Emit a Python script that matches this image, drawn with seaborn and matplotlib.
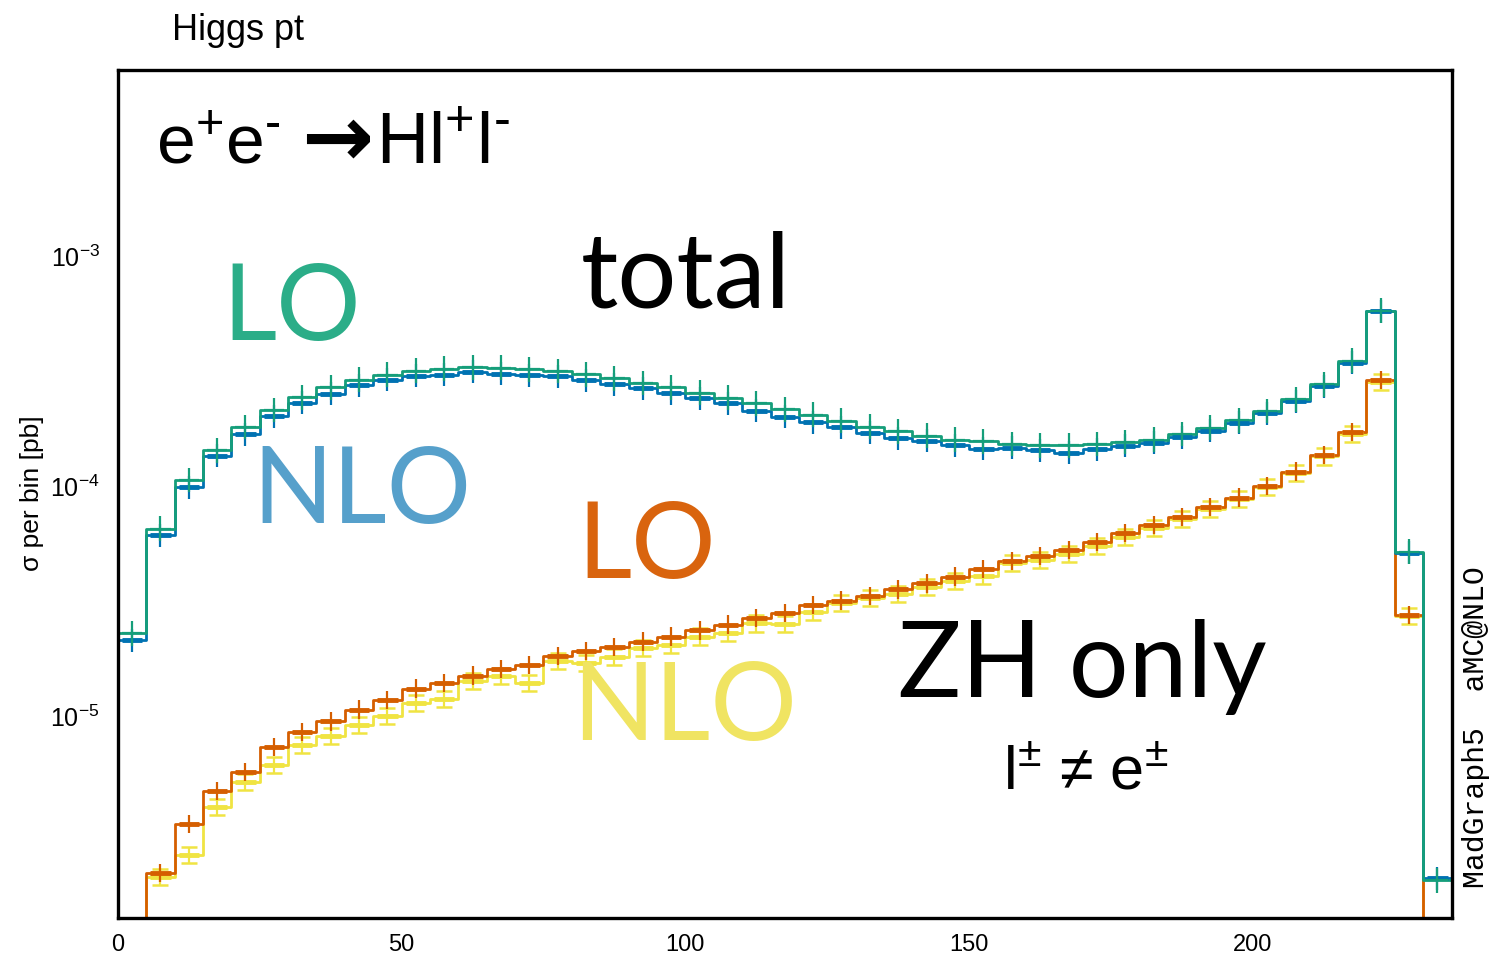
import numpy as np
import pandas as pd
import matplotlib
matplotlib.use("Agg")
import matplotlib.pyplot as plt
import seaborn as sns
from matplotlib.ticker import FixedLocator, LogLocator, NullLocator, LogFormatterSciNotation

# Higgs transverse momentum, 5 GeV bins from 0 to 235
pt_edges = np.arange(0.0, 240.0, 5.0)

# e+e- -> H l+ l-, total (LO / NLO), cross section per bin in pb
lo_total = [2.29e-5, 6.55e-5, 1.066e-4, 1.435e-4, 1.815e-4, 2.15e-4, 2.44e-4, 2.70e-4,
            2.92e-4, 3.06e-4, 3.19e-4, 3.25e-4, 3.30e-4, 3.29e-4, 3.24e-4, 3.18e-4,
            3.08e-4, 2.95e-4, 2.82e-4, 2.70e-4, 2.56e-4, 2.43e-4, 2.30e-4, 2.17e-4,
            2.05e-4, 1.93e-4, 1.82e-4, 1.74e-4, 1.66e-4, 1.60e-4, 1.57e-4, 1.53e-4,
            1.51e-4, 1.51e-4, 1.53e-4, 1.56e-4, 1.60e-4, 1.69e-4, 1.80e-4, 1.94e-4,
            2.13e-4, 2.39e-4, 2.78e-4, 3.52e-4, 5.81e-4, 5.20e-5, 1.93e-6]
nlo_total = [2.14e-5, 6.14e-5, 9.90e-5, 1.36e-4, 1.69e-4, 2.02e-4, 2.31e-4, 2.53e-4,
             2.76e-4, 2.92e-4, 3.03e-4, 3.06e-4, 3.16e-4, 3.10e-4, 3.05e-4, 3.01e-4,
             2.90e-4, 2.78e-4, 2.67e-4, 2.54e-4, 2.42e-4, 2.30e-4, 2.14e-4, 2.01e-4,
             1.90e-4, 1.81e-4, 1.71e-4, 1.62e-4, 1.58e-4, 1.51e-4, 1.46e-4, 1.47e-4,
             1.44e-4, 1.40e-4, 1.45e-4, 1.50e-4, 1.55e-4, 1.64e-4, 1.75e-4, 1.89e-4,
             2.08e-4, 2.35e-4, 2.73e-4, 3.46e-4, 5.78e-4, 5.15e-5, 1.97e-6]

# ZH contribution only (LO / NLO)
lo_zh = [4.0e-7, 2.07e-6, 3.39e-6, 4.73e-6, 5.69e-6, 7.34e-6, 8.50e-6, 9.48e-6,
         1.066e-5, 1.175e-5, 1.316e-5, 1.39e-5, 1.50e-5, 1.60e-5, 1.67e-5, 1.83e-5,
         1.92e-5, 2.00e-5, 2.11e-5, 2.22e-5, 2.36e-5, 2.50e-5, 2.67e-5, 2.81e-5,
         3.05e-5, 3.18e-5, 3.34e-5, 3.56e-5, 3.78e-5, 4.05e-5, 4.37e-5, 4.73e-5,
         4.98e-5, 5.29e-5, 5.74e-5, 6.25e-5, 6.78e-5, 7.38e-5, 8.13e-5, 8.93e-5,
         1.007e-4, 1.159e-4, 1.371e-4, 1.72e-4, 2.90e-4, 2.75e-5, 4.0e-7]
nlo_zh = [4.0e-7, 2.00e-6, 2.48e-6, 4.03e-6, 5.15e-6, 6.12e-6, 7.48e-6, 8.19e-6,
          9.14e-6, 1.005e-5, 1.14e-5, 1.19e-5, 1.42e-5, 1.50e-5, 1.39e-5, 1.74e-5,
          1.71e-5, 1.80e-5, 1.97e-5, 2.04e-5, 2.22e-5, 2.29e-5, 2.53e-5, 2.51e-5,
          2.84e-5, 3.10e-5, 3.28e-5, 3.40e-5, 3.65e-5, 3.88e-5, 4.08e-5, 4.64e-5,
          4.77e-5, 5.06e-5, 5.50e-5, 6.00e-5, 6.60e-5, 7.20e-5, 7.95e-5, 8.78e-5,
          9.90e-5, 1.14e-4, 1.35e-4, 1.69e-4, 2.86e-4, 2.72e-5, 4.0e-7]

# relative uncertainty of each sample, in decades
err_dec = {"nlo_zh": 0.035, "lo_zh": 0.040, "nlo_total": 0.050, "lo_total": 0.054}

x_ticks = [0, 50, 100, 150, 200]
x_range = (0.0, 235.0)
y_range = (1.316e-6, 6.5e-3)

series = {"nlo_zh": nlo_zh, "lo_zh": lo_zh, "nlo_total": nlo_total, "lo_total": lo_total}
line_colors = {"nlo_zh": "#F0E442", "lo_zh": "#D55E00",
               "nlo_total": "#0072B2", "lo_total": "#159E7A"}
text_colors = {"nlo_zh": "#F0E462", "lo_zh": "#D9640E",
               "nlo_total": "#56A0CB", "lo_total": "#2BAD88"}

sns.set_style("white")
plt.rcParams["font.family"] = ["Liberation Sans", "DejaVu Sans"]
plt.rcParams["mathtext.fontset"] = "custom"
plt.rcParams["mathtext.rm"] = "Liberation Sans"
plt.rcParams["mathtext.it"] = "Liberation Sans"
plt.rcParams["mathtext.bf"] = "Liberation Sans:bold"
plt.rcParams["text.color"] = "black"
plt.rcParams["axes.labelcolor"] = "black"
plt.rcParams["xtick.color"] = "black"
plt.rcParams["ytick.color"] = "black"

fig = plt.figure(figsize=(14.91, 9.58), dpi=100)
ax = fig.add_axes([0.0790, 0.0414, 0.8946, 0.8855])
ax.set_yscale("log")

# step outlines of the histograms
frames = []
for name, vals in series.items():
    vals = np.asarray(vals)
    frames.append(pd.DataFrame({
        "pt": np.append(pt_edges[:-1], pt_edges[-1]),
        "sigma": np.append(vals, vals[-1]),
        "sample": name,
    }))
df = pd.concat(frames, ignore_index=True)
sns.lineplot(data=df, x="pt", y="sigma", hue="sample", hue_order=list(series.keys()),
             palette=line_colors, drawstyle="steps-post", estimator=None, sort=False,
             legend=False, linewidth=2.0, ax=ax)

# error crosses at bin centres
centres = 0.5 * (pt_edges[:-1] + pt_edges[1:])
for name, vals in series.items():
    vals = np.asarray(vals)
    ok = vals > y_range[0]
    c, v = centres[ok], vals[ok]
    f = 10 ** err_dec[name]
    col = line_colors[name]
    if name == "nlo_zh":
        ax.errorbar(c, v, yerr=[v - v / f, v * f - v], fmt="none", ecolor=col,
                    elinewidth=1.6, capsize=6, capthick=1.8, zorder=2)
    else:
        ax.errorbar(c, v, yerr=[v - v / f, v * f - v], fmt="none", ecolor=col,
                    elinewidth=1.6, zorder=3)
    thick = 1.6 if name == "lo_total" else 3.5
    ax.errorbar(c, v, xerr=1.8, fmt="none", ecolor=col, elinewidth=thick, zorder=3)

ax.set_xlim(*x_range)
ax.set_ylim(*y_range)
ax.set_xlabel("")
ax.set_ylabel("")

ax.xaxis.set_major_locator(FixedLocator(x_ticks))
ax.xaxis.set_minor_locator(NullLocator())
ax.yaxis.set_major_locator(LogLocator(base=10))
ax.yaxis.set_minor_locator(LogLocator(base=10, subs=np.arange(2, 10)))
ax.yaxis.set_major_formatter(LogFormatterSciNotation())
ax.tick_params(axis="x", which="major", direction="in", length=9.5, width=1.4,
               labelsize=17, pad=11, top=False, colors="black")
ax.tick_params(axis="y", which="major", direction="in", length=14, width=1.4,
               labelsize=18, pad=13, right=False, colors="black")
ax.tick_params(axis="y", which="minor", direction="in", length=6.5, width=1.4,
               right=False, colors="black")
for s in ax.spines.values():
    s.set_linewidth(2.4)
    s.set_color("black")
    s.set_visible(True)


def fig_xy(px, py):
    return px / 1491.0, 1.0 - py / 958.0


gill = ["Lato", "DejaVu Sans"]
helv = ["Liberation Sans", "DejaVu Sans"]

fig.text(*fig_xy(172, 40), "Higgs pt", fontsize=26, family=helv, va="baseline", ha="left")

# process label: e+e- -> H l+ l-
fig.text(*fig_xy(156, 164), r"e$^{+}$e$^{\text{-}}$", fontsize=50, family=helv,
         va="baseline", ha="left")
fig.text(*fig_xy(301, 166), "→", fontsize=62, family=["DejaVu Sans", "Liberation Sans"],
         fontweight="bold", va="baseline", ha="left")
fig.text(*fig_xy(376, 164), r"Hl$^{+}$l$^{\text{-}}$", fontsize=52, family=helv,
         va="baseline", ha="left")

fig.text(*fig_xy(222, 340), "LO", fontsize=76, family=gill, color=text_colors["lo_total"],
         va="baseline", ha="left")
fig.text(*fig_xy(252, 523), "NLO", fontsize=76, family=gill, color=text_colors["nlo_total"],
         va="baseline", ha="left")
fig.text(*fig_xy(581, 308), "total", fontsize=75, family=gill, color="black",
         va="baseline", ha="left")
fig.text(*fig_xy(577, 578), "LO", fontsize=76, family=gill, color=text_colors["lo_zh"],
         va="baseline", ha="left")
fig.text(*fig_xy(572, 740), "NLO", fontsize=78, family=gill, color=text_colors["nlo_zh"],
         va="baseline", ha="left")
fig.text(*fig_xy(898, 697), "ZH only", fontsize=76, family=gill, color="black",
         va="baseline", ha="left")
fig.text(*fig_xy(1003, 790), r"l$^{\pm}$ ≠ e$^{\pm}$", fontsize=44, family=helv,
         color="black", va="baseline", ha="left")
fig.text(*fig_xy(1476, 888), "MadGraph5  aMC@NLO", fontsize=21.5,
         family=["Liberation Mono", "DejaVu Sans Mono"], rotation=90,
         ha="center", va="bottom")
fig.text(*fig_xy(32, 493), "σ per bin [pb]", fontsize=19, family=helv, rotation=90,
         ha="center", va="center")

fig.savefig("out.png", dpi=100)
